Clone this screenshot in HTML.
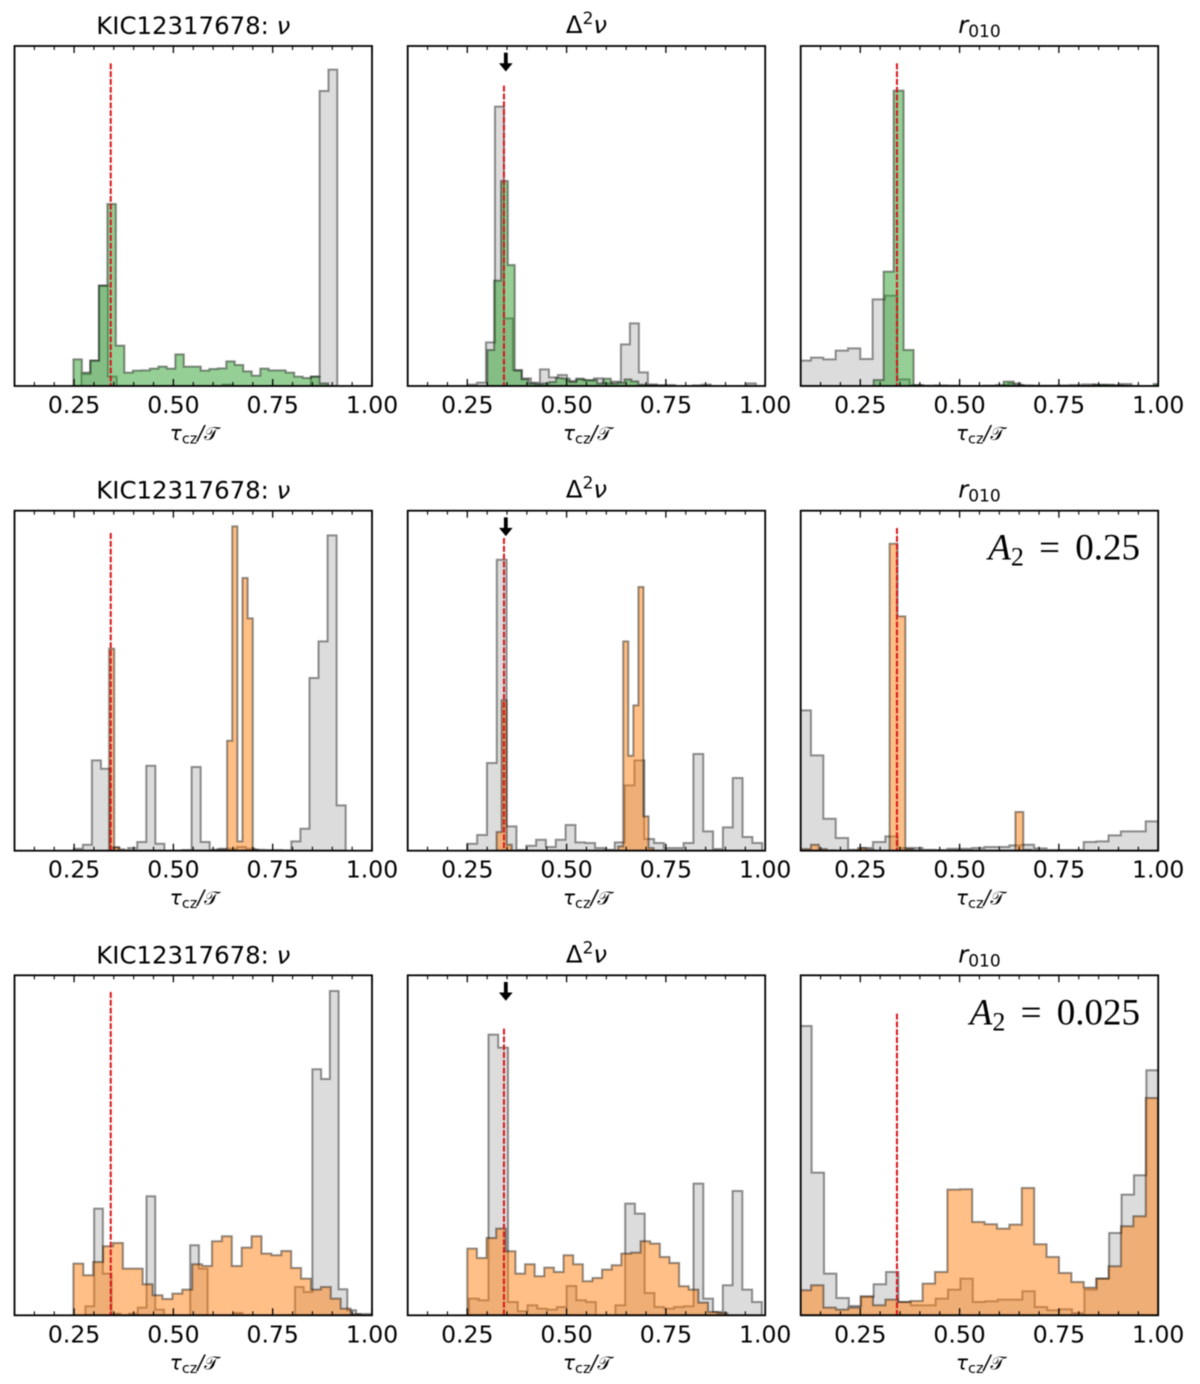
<!DOCTYPE html>
<html lang="en">
<head>
<meta charset="utf-8">
<title>KIC12317678 histograms</title>
<style>
html,body{margin:0;padding:0;background:#fff;width:1200px;height:1384px;overflow:hidden}
svg{display:block;font-family:"DejaVu Sans","Liberation Sans",sans-serif;filter:blur(0.4px)}
</style>
</head>
<body>
<svg id="figure" xmlns="http://www.w3.org/2000/svg" width="1200" height="1384" viewBox="0 0 1200 1384"></svg>
<script>
// Shared axis data
const xTickLabels = ["0.25", "0.50", "0.75", "1.00"];
const xMajorTicks = [0.25, 0.5, 0.75, 1.0];
const xMinorTicks = [0.15, 0.2, 0.3, 0.35, 0.4, 0.45, 0.55, 0.6, 0.65, 0.7, 0.8, 0.85, 0.9, 0.95];
const xDomain = [0.1, 1.0];
const yDomain = [0, 1020];
const tauRef = 0.3423;
const tauArrow = 0.347;
const arrowStart = 1000;
const arrowTip = 945;

// Row 1 (green)
const r1NuGrayBins = [0.2685, 0.02221];
const r1NuGray = [36,76,301,28,0,0,0,0,0,0,0,0,0,0,0,0,4,0,0,0,0,0,0,0,0,0,28,885,949];
const r1NuColorBins = [0.2483, 0.02138];
const r1NuColor = [80,40,76,301,546,121,40,46,47,52,58,52,95,58,58,46,51,53,74,63,44,31,52,47,47,40,28,24,28,8];
const r1D2GrayBins = [0.2517, 0.02265];
const r1D2Gray = [4,10,131,838,203,48,23,10,50,26,33,15,20,16,23,8,13,125,188,41,5,2,3,0,0,2,4,0,0,0,0,8];
const r1D2ColorBins = [0.3003, 0.01728];
const r1D2Color = [108,316,615,363,46,20,8,6,8,12,24,22,12,22,18,18,8,22,8,10,20,14,4,2,2,2,0];
const r1RGrayBins = [0.0948, 0.03104];
const r1RGray = [76,85,80,106,113,81,260,271,20,3,1,2,1,0,0,1,3,8,2,1,1,2,3,5,3,2,6];
const r1RColorBins = [0.2836, 0.02517];
const r1RColor = [18,343,886,108,2,0,0,0,0,0,0,0,0,13,3,0,0,0,0,0,0,0,4,4,2,0,0,0,6];

// Row 2 (orange, A2 = 0.25)
const r2NuGrayBins = [0.2492, 0.02282];
const r2NuGray = [6,18,271,246,10,0,8,26,255,21,0,0,2,251,26,3,6,6,11,6,3,2,2,1,28,66,518,628,946,136];
const r2NuColorBins = [0.3381, 0.01292];
const r2NuColor = [606,10,4,0,0,0,0,0,0,0,0,0,0,0,0,0,0,0,0,0,0,3,3,330,973,28,818,697,3];
const r2D2GrayBins = [0.25, 0.02475];
const r2D2Gray = [21,47,263,873,73,2,15,33,11,33,77,25,23,8,3,25,196,271,35,23,8,8,23,290,58,5,70,218,41,23];
const r2D2ColorBins = [0.3238, 0.01275];
const r2D2Color = [56,451,18,0,0,0,0,0,0,0,0,0,0,0,0,0,0,0,0,0,0,0,0,0,13,628,285,436,791,103,8];
const r2RGrayBins = [0.0946, 0.03121];
const r2RGray = [421,286,96,38,3,8,26,43,8,8,3,2,6,6,8,11,11,16,18,7,2,2,2,26,28,46,58,58,88];
const r2RColorBins = [0.0862, 0.0198];
const r2RColor = [5,5,18,5,1,0,0,0,8,3,0,0,921,703,5,0,0,0,0,0,0,0,0,0,0,0,0,0,116,3];

// Row 3 (orange, A2 = 0.025)
const r3NuGrayBins = [0.2785, 0.02198];
const r3NuGray = [27,320,125,5,0,5,23,357,17,0,0,0,210,140,0,0,0,7,0,0,0,0,0,0,85,70,738,709,973,78,15,4,4];
const r3NuColorBins = [0.2483, 0.02492];
const r3NuColor = [155,120,160,207,217,140,140,93,60,49,65,77,153,148,222,237,148,203,237,185,180,193,142,110,77,85,50,20,3];
const r3D2GrayBins = [0.2542, 0.02458];
const r3D2Gray = [50,45,842,803,40,12,30,20,17,25,88,45,40,0,0,30,335,305,67,25,20,25,27,395,50,10,90,373,77,40];
const r3D2ColorBins = [0.25, 0.02424];
const r3D2Color = [200,172,232,260,192,125,153,117,143,130,180,153,102,112,137,150,185,188,222,215,175,157,87,77,38,10,7];
const r3RGrayBins = [0.0963, 0.03121];
const r3RGray = [868,428,125,52,28,55,93,130,40,30,30,50,77,110,40,42,47,47,72,25,15,18,7,77,110,247,362,420,735];
const r3RColorBins = [0.0948, 0.03121];
const r3RColor = [75,90,23,17,23,57,30,47,40,43,95,130,377,378,280,273,260,272,382,213,175,127,100,83,110,147,267,297,652];

// Top of the red reference line in each panel (same units as the counts)
const refTopRow1 = [968, 901, 968];
const refTopRow2 = [953, 938, 968];
const refTopRow3 = [970, 860, 905];

const annotations = [null, "0.25", "0.025"];
const columnNames = ["nu", "delta2-nu", "r010"];
const rowColors = ["rgba(44,160,44,0.5)", "rgba(255,127,14,0.5)", "rgba(255,127,14,0.5)"];

const grid = [
  [[r1NuGray, r1NuGrayBins, r1NuColor, r1NuColorBins, refTopRow1[0]],
   [r1D2Gray, r1D2GrayBins, r1D2Color, r1D2ColorBins, refTopRow1[1]],
   [r1RGray, r1RGrayBins, r1RColor, r1RColorBins, refTopRow1[2]]],
  [[r2NuGray, r2NuGrayBins, r2NuColor, r2NuColorBins, refTopRow2[0]],
   [r2D2Gray, r2D2GrayBins, r2D2Color, r2D2ColorBins, refTopRow2[1]],
   [r2RGray, r2RGrayBins, r2RColor, r2RColorBins, refTopRow2[2]]],
  [[r3NuGray, r3NuGrayBins, r3NuColor, r3NuColorBins, refTopRow3[0]],
   [r3D2Gray, r3D2GrayBins, r3D2Color, r3D2ColorBins, refTopRow3[1]],
   [r3RGray, r3RGrayBins, r3RColor, r3RColorBins, refTopRow3[2]]]
];

const SVGNS = "http://www.w3.org/2000/svg";
const svg = document.getElementById("figure");
const axLeft = [14.5, 407.7, 800.7];
const axTop = [46, 510.7, 975.3];
const axW = 357.5, axH = 340;

function mk(tag, parent, name, attrs) {
  const el = document.createElementNS(SVGNS, tag);
  
  
  for (const k in attrs) el.setAttribute(k, attrs[k]);
  parent.appendChild(el);
  return el;
}
function span(parent, str, attrs) {
  const el = mk("tspan", parent, "text-span", attrs || {});
  el.textContent = str;
  return el;
}
function stepPoints(values, bins, sx, sy) {
  const lo = bins[0], w = bins[1];
  const pts = [[sx(lo), sy(0)]];
  values.forEach(function (v, i) {
    pts.push([sx(lo + i * w), sy(v)]);
    pts.push([sx(lo + (i + 1) * w), sy(v)]);
  });
  pts.push([sx(lo + values.length * w), sy(0)]);
  return pts.map(function (p) { return p[0].toFixed(2) + "," + p[1].toFixed(2); }).join(" ");
}

grid.forEach(function (row, r) {
  row.forEach(function (cell, c) {
    const L = axLeft[c], T = axTop[r], B = T + axH, R = L + axW;
    const sx = function (t) { return L + (t - xDomain[0]) / (xDomain[1] - xDomain[0]) * axW; };
    const sy = function (v) { return B - (v - yDomain[0]) / (yDomain[1] - yDomain[0]) * axH; };
    const g = mk("g", svg, "panel-" + columnNames[c] + "-row" + (r + 1), {});

    // clip
    const clipId = "clip-" + r + "-" + c;
    const defs = mk("defs", g, "panel-defs", {});
    const cp = mk("clipPath", defs, "panel-clip", { id: clipId });
    mk("rect", cp, "panel-clip-rect", { x: L, y: T, width: axW, height: axH });
    const plot = mk("g", g, "plot-area", { "clip-path": "url(#" + clipId + ")" });

    // histograms
    mk("polygon", plot, "histogram-gray", {
      points: stepPoints(cell[0], cell[1], sx, sy),
      fill: "rgba(128,128,128,0.28)", stroke: "rgba(0,0,0,0.42)", "stroke-width": 2, "stroke-linejoin": "miter"
    });
    mk("polygon", plot, r === 0 ? "histogram-green" : "histogram-orange", {
      points: stepPoints(cell[2], cell[3], sx, sy),
      fill: rowColors[r], stroke: "rgba(0,0,0,0.42)", "stroke-width": 2, "stroke-linejoin": "miter"
    });

    // reference line
    mk("line", plot, "reference-line", {
      x1: sx(tauRef), x2: sx(tauRef), y1: sy(cell[4]), y2: sy(0),
      stroke: "#d8141c", "stroke-width": 2, "stroke-dasharray": "6,1.8"
    });

    // arrow on the middle column
    if (c === 1) {
      const ax = sx(tauArrow), ay0 = sy(arrowStart), ay1 = sy(arrowTip);
      mk("line", g, "arrow-stem", { x1: ax, x2: ax, y1: ay0, y2: ay1 - 5, stroke: "#000", "stroke-width": 3.8 });
      mk("polygon", g, "arrow-head", {
        points: (ax - 6.2) + "," + (ay1 - 7.5) + " " + (ax + 6.2) + "," + (ay1 - 7.5) + " " + ax + "," + ay1,
        fill: "#000", stroke: "#000", "stroke-width": 0.6
      });
    }

    // ticks
    xMinorTicks.forEach(function (t) {
      mk("line", g, "minor-tick-bottom", { x1: sx(t), x2: sx(t), y1: B, y2: B - 4, stroke: "#000", "stroke-width": 1.1 });
      mk("line", g, "minor-tick-top", { x1: sx(t), x2: sx(t), y1: T, y2: T + 4, stroke: "#000", "stroke-width": 1.1 });
    });
    xMajorTicks.forEach(function (t, i) {
      mk("line", g, "major-tick-bottom", { x1: sx(t), x2: sx(t), y1: B, y2: B - 7, stroke: "#000", "stroke-width": 1.3 });
      mk("line", g, "major-tick-top", { x1: sx(t), x2: sx(t), y1: T, y2: T + 7, stroke: "#000", "stroke-width": 1.3 });
      const lab = mk("text", g, "x-tick-label", { x: sx(t), y: B + 27, "font-size": 23.5, "text-anchor": "middle", fill: "#000" });
      lab.textContent = xTickLabels[i];
    });

    // frame
    mk("rect", g, "axes-frame", { x: L, y: T, width: axW, height: axH, fill: "none", stroke: "#000", "stroke-width": 1.8 });

    // title
    const cx = L + axW / 2;
    const title = mk("text", g, "panel-title", { x: cx, y: T - 12, "font-size": 24.4, "text-anchor": "middle", fill: "#000" });
    if (c === 0) {
      span(title, "KIC12317678: ");
      span(title, "\u03BD", { "font-style": "italic" });
    } else if (c === 1) {
      title.setAttribute("y", T - 13);
      span(title, "\u0394");
      span(title, "2", { "font-size": 17, dy: -9 });
      span(title, "\u03BD", { "font-style": "italic", dy: 9 });
    } else {
      title.setAttribute("y", T - 13);
      span(title, "r", { "font-style": "italic" });
      span(title, "010", { "font-size": 17, dy: 4 });
    }

    // x label
    const xl = mk("text", g, "x-axis-label", { x: cx + 1, y: B + 54, "font-size": 20, "text-anchor": "middle", fill: "#000" });
    span(xl, "\u03C4", { "font-style": "italic" });
    span(xl, "cz", { "font-size": 14.5, dy: 3.5 });
    span(xl, "/", { dy: -3.5, "font-style": "italic" });
    span(xl, "\uD835\uDCAF", { "font-size": 19 });

    // annotation
    if (c === 2 && annotations[r]) {
      const an = mk("text", g, "amplitude-annotation", {
        x: 1140, y: T + 49, "font-size": 37, "text-anchor": "end", fill: "#000",
        "font-family": "'Liberation Serif',serif"
      });
      span(an, "A", { "font-style": "italic" });
      span(an, "2", { "font-size": 26, dy: 6 });
      span(an, " = ", { dy: -6, style: "white-space:pre;word-spacing:6px" });
      span(an, annotations[r]);
    }
  });
});
</script>
</body>
</html>
